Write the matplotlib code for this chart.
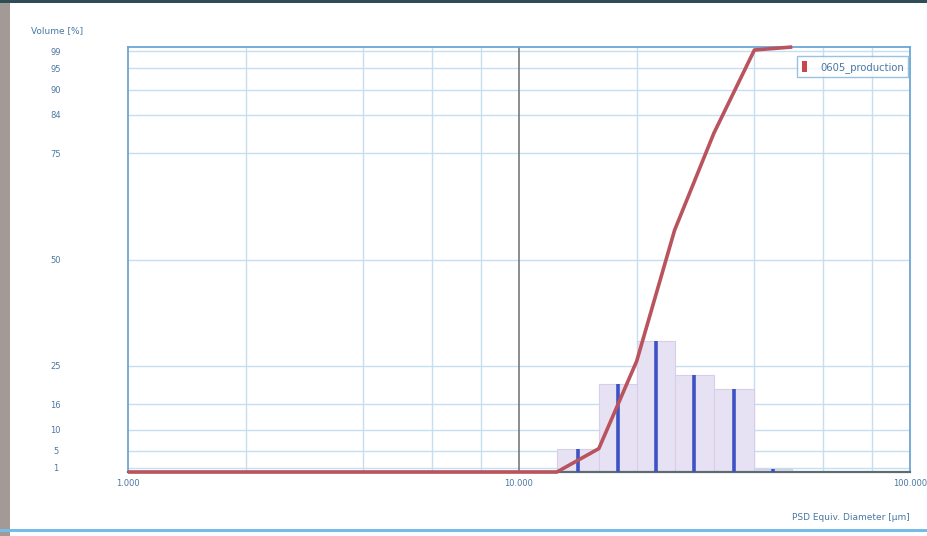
import numpy as np
import matplotlib
matplotlib.use("Agg")
import matplotlib.pyplot as plt
from matplotlib.patches import Rectangle

# Sieve class edges [µm] and volume fraction per class [%]
class_edges = [12.5, 16.0, 20.0, 25.0, 31.5, 40.0, 50.0]
class_volume = [5.5, 20.6, 30.8, 22.8, 19.6, 0.7]

# Axis ranges / ticks
x_min, x_max = 1.0, 100.0
x_ticks = [1.0, 10.0, 100.0]
x_tick_labels = ["1.000", "10.000", "100.000"]
x_grid = [2, 4, 6, 8, 20, 40, 60, 80]
y_ticks = [1, 5, 10, 16, 25, 50, 75, 84, 90, 95, 99]
series_name = "0605_production"

W, H = 927, 536
fig = plt.figure(figsize=(W / 100, H / 100), dpi=100)
fig.patch.set_facecolor("white")

# frame decorations around the plot panel
fig.add_artist(Rectangle((0, 0), 10 / W, 1, transform=fig.transFigure,
                         facecolor="#a39a96", edgecolor="none"))
fig.add_artist(Rectangle((0, 1 - 3 / H), 1, 3 / H, transform=fig.transFigure,
                         facecolor="#2f4d57", edgecolor="none"))
fig.add_artist(Rectangle((0, 4 / H), 1, 3 / H, transform=fig.transFigure,
                         facecolor="#74bde9", edgecolor="none"))

ax = fig.add_axes([128 / W, 1 - 472 / H, (910 - 128) / W, (472 - 47) / H])
ax.set_xscale("log")
ax.set_xlim(x_min, x_max)
ax.set_ylim(0, 100)

# grid
for xv in x_grid:
    ax.axvline(xv, color="#c5dff0", lw=1.0, zorder=0)
for yv in y_ticks:
    ax.axhline(yv, color="#c5dff0", lw=1.0, zorder=0)
ax.axvline(10.0, color="#6b6f73", lw=1.1, zorder=1)

# histogram classes
edges = np.array(class_edges)
vol = np.array(class_volume)
lefts = edges[:-1]
widths = edges[1:] - edges[:-1]
ax.bar(lefts, vol, width=widths, align="edge", color="#e7e2f3",
       edgecolor="#d6cfea", linewidth=0.8, zorder=2)
centers = np.sqrt(edges[:-1] * edges[1:])
ax.vlines(centers, 0, vol, color="#3d52c4", lw=2.6, zorder=3)

# cumulative distribution
cum = np.concatenate([[0.0], np.cumsum(vol)])
cum = cum / cum[-1] * 100
cx = np.concatenate([[x_min], edges])
cy = np.concatenate([[0.0], cum])
ax.plot(cx, cy, color="#b9535d", lw=2.6, zorder=4, solid_capstyle="butt",
        solid_joinstyle="round", clip_on=False)

# axes styling
for side in ("left", "top", "right"):
    ax.spines[side].set_color("#6aa6d3")
    ax.spines[side].set_linewidth(1.3)
ax.spines["bottom"].set_color("#5d6b72")
ax.spines["bottom"].set_linewidth(1.6)

ax.set_xticks(x_ticks)
ax.set_xticklabels(x_tick_labels)
ax.xaxis.set_minor_locator(matplotlib.ticker.NullLocator())
ax.set_yticks(y_ticks)
ax.set_yticklabels([str(v) for v in y_ticks])
ax.tick_params(axis="both", length=0, labelsize=6, labelcolor="#4a78a3")
ax.tick_params(axis="y", pad=52)
ax.tick_params(axis="x", pad=5)
for lbl in ax.get_yticklabels():
    lbl.set_horizontalalignment("center")

fig.text(57 / W, 1 - 31 / H, "Volume [%]", fontsize=6.5, color="#4a78a3",
         ha="center", va="center")
fig.text(910 / W, 1 - 518 / H, "PSD Equiv. Diameter [µm]", fontsize=6.5,
         color="#4a78a3", ha="right", va="center")

handle = Rectangle((0, 0), 1, 1, facecolor="#c9474a", edgecolor="none")
leg = ax.legend([handle], [series_name], loc="upper right",
                bbox_to_anchor=(0.998, 0.978), fontsize=7.2, frameon=True,
                fancybox=False, handlelength=0.55, handleheight=1.3,
                handletextpad=1.3, borderpad=0.45, borderaxespad=0.0)
leg.get_frame().set_edgecolor("#7fb3da")
leg.get_frame().set_linewidth(1.0)
for t in leg.get_texts():
    t.set_color("#4a78a3")

fig.savefig("out.png", dpi=100)
